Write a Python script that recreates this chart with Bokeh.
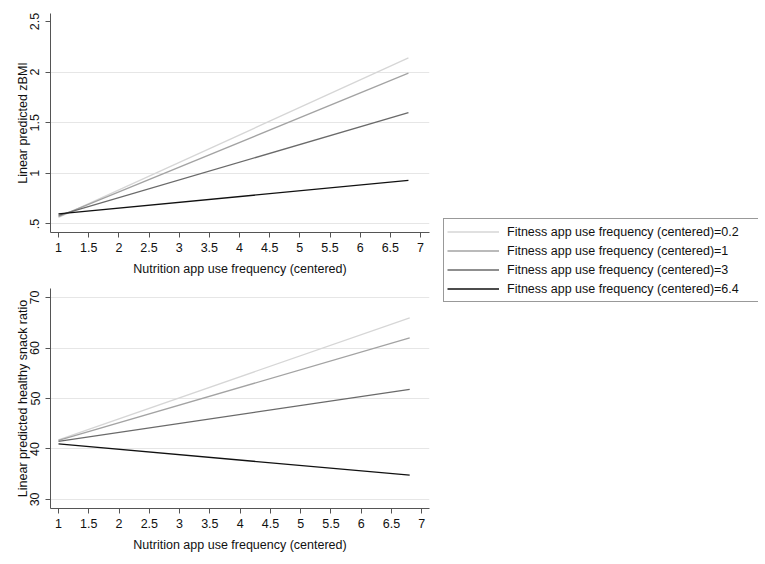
from bokeh.plotting import figure
from bokeh.layouts import row, column
from bokeh.models import FixedTicker, Legend, LegendItem, Range1d
from bokeh.embed import file_html
from bokeh.resources import INLINE

# ---- data ----
nutrition_x = [1, 6.8]
fitness_levels = ["0.2", "1", "3", "6.4"]
zbmi_f02 = [0.565, 2.14]
zbmi_f1 = [0.572, 1.99]
zbmi_f3 = [0.585, 1.60]
zbmi_f64 = [0.600, 0.93]
snack_f02 = [41.8, 66.0]
snack_f1 = [41.7, 62.0]
snack_f3 = [41.5, 51.8]
snack_f64 = [41.0, 34.8]

x_ticks = [1, 1.5, 2, 2.5, 3, 3.5, 4, 4.5, 5, 5.5, 6, 6.5, 7]
x_tick_labels = ["1", "1.5", "2", "2.5", "3", "3.5", "4", "4.5", "5", "5.5", "6", "6.5", "7"]
zbmi_ticks = [0.5, 1, 1.5, 2, 2.5]
zbmi_tick_labels = [".5", "1", "1.5", "2", "2.5"]
zbmi_grid = [0.5, 1, 1.5, 2]
snack_ticks = [30, 40, 50, 60, 70]
snack_tick_labels = ["30", "40", "50", "60", "70"]

x_title = "Nutrition app use frequency (centered)"
zbmi_title = "Linear predicted zBMI"
snack_title = "Linear predicted healthy snack ratio"
legend_labels = ["Fitness app use frequency (centered)=" + f for f in fitness_levels]

colors = ["#d6d6d6", "#a3a3a3", "#6a6a6a", "#111111"]
FONT = "Liberation Sans"
FS = "12.5px"
AXIS_COLOR = "#555555"


def style(p, yticks, ylabels, ygrid):
    p.outline_line_color = None
    p.background_fill_color = "white"
    p.border_fill_color = "white"
    for ax in (p.xaxis[0], p.yaxis[0]):
        ax.axis_line_color = AXIS_COLOR
        ax.major_tick_line_color = AXIS_COLOR
        ax.major_tick_out = 5
        ax.major_tick_in = 0
        ax.minor_tick_line_color = None
        ax.major_label_text_font = FONT
        ax.major_label_text_font_size = FS
        ax.major_label_text_color = "#111111"
        ax.axis_label_text_font = FONT
        ax.axis_label_text_font_size = FS
        ax.axis_label_text_font_style = "normal"
        ax.axis_label_text_color = "#111111"
    p.xaxis[0].ticker = FixedTicker(ticks=x_ticks)
    p.xaxis[0].major_label_overrides = {t: l for t, l in zip(x_ticks, x_tick_labels)}
    p.xaxis[0].major_label_standoff = 5
    p.xaxis[0].axis_label_standoff = 7
    p.yaxis[0].ticker = FixedTicker(ticks=yticks)
    p.yaxis[0].major_label_orientation = "vertical"
    p.yaxis[0].major_label_overrides = {t: l for t, l in zip(yticks, ylabels)}
    p.yaxis[0].major_label_standoff = 6
    p.yaxis[0].axis_label_standoff = -2
    p.xgrid.visible = False
    p.ygrid.ticker = FixedTicker(ticks=ygrid)
    p.ygrid.grid_line_color = "#e6e6e6"
    p.ygrid.grid_line_width = 1


# ---- top panel ----
p1 = figure(width=438, height=280, output_backend="svg", toolbar_location=None,
            x_range=Range1d(0.867, 7.149), y_range=Range1d(0.416, 2.579),
            min_border_left=50, min_border_right=9, min_border_top=13, min_border_bottom=48,
            x_axis_label=x_title, y_axis_label=zbmi_title)
p1.frame_width = 379
p1.frame_height = 219
for ys, c in zip([zbmi_f02, zbmi_f1, zbmi_f3, zbmi_f64], colors):
    p1.line(nutrition_x, ys, line_color=c, line_width=1.3)
style(p1, zbmi_ticks, zbmi_tick_labels, zbmi_grid)

# ---- bottom panel ----
p2 = figure(width=438, height=276, output_backend="svg", toolbar_location=None,
            x_range=Range1d(0.868, 7.127), y_range=Range1d(28.2, 71.8),
            min_border_left=47, min_border_right=12, min_border_top=8, min_border_bottom=48,
            x_axis_label=x_title, y_axis_label=snack_title)
p2.frame_width = 379
p2.frame_height = 220
for ys, c in zip([snack_f02, snack_f1, snack_f3, snack_f64], colors):
    p2.line(nutrition_x, ys, line_color=c, line_width=1.3)
style(p2, snack_ticks, snack_tick_labels, snack_ticks)

# ---- legend panel (its lines sit outside the visible range; only the legend shows) ----
pl = figure(width=320, height=556, output_backend="svg", toolbar_location=None,
            x_range=Range1d(100, 101), y_range=Range1d(100, 101),
            x_axis_location=None, y_axis_location=None,
            min_border=0, min_border_left=0, min_border_right=0,
            min_border_top=0, min_border_bottom=0)
pl.outline_line_color = None
pl.xgrid.visible = False
pl.ygrid.visible = False
items = []
for lab, ys, c in zip(legend_labels, [zbmi_f02, zbmi_f1, zbmi_f3, zbmi_f64], colors):
    r = pl.line(nutrition_x, ys, line_color=c, line_width=1.3)
    items.append(LegendItem(label=lab, renderers=[r]))
leg = Legend(items=items, location=(5, 254), orientation="vertical",
             padding=3, margin=0, spacing=0,
             glyph_width=52, glyph_height=19, label_height=19,
             label_standoff=8, label_width=248,
             label_text_font=FONT, label_text_font_size=FS, label_text_color="#111111",
             border_line_color="#333333", border_line_width=1,
             background_fill_color="white", background_fill_alpha=1)
pl.add_layout(leg)

layout = row(column(p1, p2), pl)
open("out.html", "w").write(file_html(layout, INLINE))
